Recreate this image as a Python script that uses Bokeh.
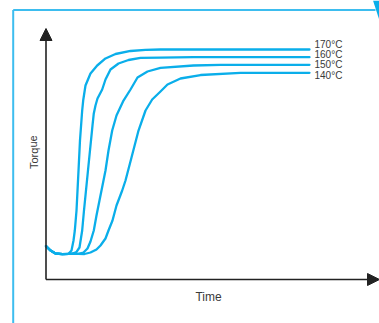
from bokeh.plotting import figure
from bokeh.models import Arrow, NormalHead, ColumnDataSource
from bokeh.core.properties import value
from bokeh.embed import file_html
from bokeh.resources import INLINE

# ---- data (arbitrary units: time 0-100, torque 0-100) ----
temps = ["170°C", "160°C", "150°C", "140°C"]

time_170 = [0.0, 1.35, 2.85, 4.95, 6.75, 7.65, 8.25, 8.64, 9.15, 9.45, 9.75, 10.19, 10.85, 11.15,
            11.84, 13.34, 15.35, 17.84, 20.84, 25.34, 29.84, 34.33, 79.01]
torque_170 = [13.3, 11.55, 10.36, 10.12, 10.24, 11.55, 15.54, 19.52, 27.49, 35.46, 43.43, 55.38, 67.33, 71.31,
              77.29, 82.07, 85.26, 88.05, 89.84, 91.04, 91.51, 91.63, 91.63]

time_160 = [0.0, 1.35, 2.85, 4.95, 6.75, 7.95, 9.15, 10.04, 10.85, 11.39, 11.99, 12.59, 13.34, 13.94,
            14.33, 14.84, 15.44, 16.85, 17.84, 19.34, 21.74, 24.74, 28.34, 34.33, 44.23, 79.01]
torque_160 = [13.3, 11.55, 10.36, 10.12, 10.24, 10.36, 10.96, 12.75, 19.52, 27.49, 35.46, 43.43, 53.39, 61.35,
              66.14, 69.32, 72.11, 75.70, 79.68, 83.67, 86.06, 87.45, 88.33, 88.37, 88.57, 88.57]

time_150 = [0.0, 1.35, 2.85, 4.95, 6.75, 9.75, 11.24, 12.44, 13.34, 14.33, 15.14, 16.04, 16.94, 17.84,
            18.74, 19.85, 21.14, 23.24, 25.34, 27.44, 30.43, 34.33, 44.23, 52.32, 79.01]
torque_150 = [13.3, 11.55, 10.36, 10.12, 10.24, 10.24, 10.76, 12.35, 15.14, 19.52, 25.50, 31.47, 37.45, 43.43,
              51.39, 59.36, 65.34, 71.31, 75.70, 80.48, 82.87, 84.34, 85.26, 85.54, 85.54]

time_140 = [0.0, 1.35, 2.85, 4.95, 6.75, 9.75, 11.54, 13.34, 15.14, 16.34, 17.84, 18.74, 19.94, 21.14,
            22.85, 23.84, 25.64, 27.74, 29.84, 31.84, 34.33, 36.43, 40.33, 46.33, 58.32, 79.01]
torque_140 = [13.3, 11.55, 10.36, 10.12, 10.24, 10.24, 10.16, 10.76, 11.95, 13.55, 16.33, 19.52, 23.51, 29.48,
              35.46, 39.44, 48.61, 59.36, 67.33, 71.71, 74.90, 77.69, 80.08, 81.47, 82.35, 82.35]

series_time = [time_170, time_160, time_150, time_140]
series_torque = [torque_170, torque_160, torque_150, torque_140]

x_label = "Time"
y_label = "Torque"

# ---- styling ----
CURVE = "#0AAEEA"
FRAME = "#3DBDEF"
INK = "#222222"
TEXT = "#3a3a3a"
FONT = value("Liberation Sans")

W, H = 379, 323
ORG = 0  # page position of the figure's top-left corner as photographed
X0 = -45.5 / 3.335
X1 = X0 + W / 3.335
Y1 = 279 / 2.51
Y0 = Y1 - H / 2.51

p = figure(width=W, height=H, x_range=(X0, X1), y_range=(Y0, Y1),
           output_backend="svg", toolbar_location=None, min_border=0)
p.axis.visible = False
p.grid.visible = False
p.outline_line_color = None
p.background_fill_color = "white"
p.border_fill_color = "white"


def px(xp):
    return X0 + (xp - ORG) / W * (X1 - X0)


def py(yp):
    return Y1 - (yp - ORG) / H * (Y1 - Y0)


# decorative frame
p.line([px(12.7), px(12.7)], [py(9.5), py(323)], line_color=FRAME, line_width=2)
p.line([px(12.7), px(375)], [py(9.5), py(9.5)], line_color=FRAME, line_width=2)
p.patch([px(372.5), px(379.5), px(378.5)], [py(0), py(0), py(18.5)],
        fill_color=CURVE, line_color=None)

# axes as arrows
p.add_layout(Arrow(end=NormalHead(size=12, fill_color=INK, line_color=INK, line_width=1),
                   x_start=0, y_start=0, x_end=0, y_end=100,
                   line_color=INK, line_width=1.6))
p.add_layout(Arrow(end=NormalHead(size=12, fill_color=INK, line_color=INK, line_width=1),
                   x_start=0, y_start=0, x_end=100, y_end=0,
                   line_color=INK, line_width=1.6))

# curves
for t, q in zip(series_time, series_torque):
    p.line(t, q, line_color=CURVE, line_width=2.3, line_join="round", line_cap="round")

# temperature labels (stacked just right of the curve ends)
ends_x = [t[-1] for t in series_time]
ends_y = [q[-1] for q in series_torque]
mid = sum(ends_y) / len(ends_y)
lab_x = [max(ends_x)] * len(temps)
lab_y = [mid] * len(temps)
offs = [((i - 1.5) * 10.4) - 1.3 for i in range(len(temps))]
src = ColumnDataSource(dict(x=lab_x, y=lab_y, text=temps, yo=offs))
p.text(x="x", y="y", text="text", source=src, x_offset=5, y_offset="yo",
       text_font=FONT, text_font_size="10px", text_color=TEXT,
       text_align="left", text_baseline="middle")

# axis titles
p.text(x=[px(208)], y=[py(296.5)], text=[x_label], text_font=FONT, text_font_size="12px",
       text_color=TEXT, text_align="center", text_baseline="middle")
p.text(x=[px(33)], y=[py(151.7)], text=[y_label], text_font=FONT, text_font_size="11px",
       text_color=TEXT, text_align="center", text_baseline="middle", angle=1.5708)

open("out.html", "w").write(file_html(p, INLINE))
